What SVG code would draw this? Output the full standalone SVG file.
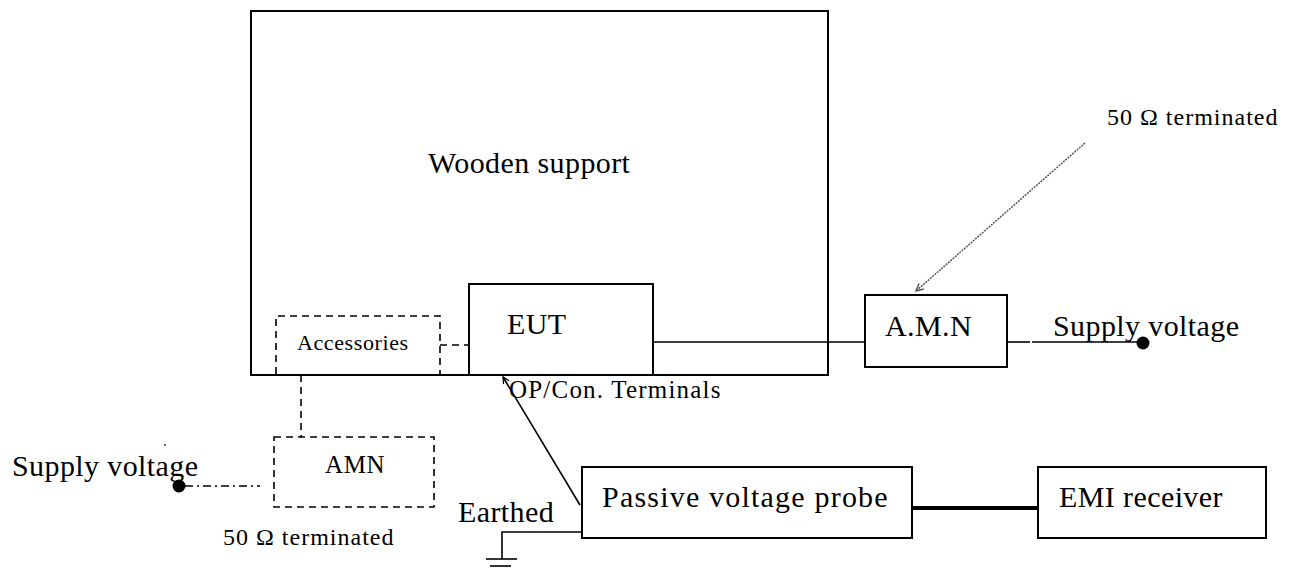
<svg xmlns="http://www.w3.org/2000/svg" width="1296" height="569" viewBox="0 0 1296 569">
<defs>
<style>
text{font-family:"Liberation Serif","Times New Roman",serif;fill:#000;}
.t30{font-size:30px;letter-spacing:0.4px;}
.t25{font-size:25px;letter-spacing:0.6px;}
.t24{font-size:24px;letter-spacing:1px;}
.t22{font-size:22px;letter-spacing:0.6px;}
.box{fill:#fff;stroke:#000;stroke-width:2;}
.dbox{fill:none;stroke:#000;stroke-width:1.6;stroke-dasharray:7 5;}
.ln{fill:none;stroke:#000;stroke-width:1.6;}
.dl{fill:none;stroke:#000;stroke-width:1.6;stroke-dasharray:7 5;}
</style>
<marker id="ah" viewBox="0 0 10 10" refX="9" refY="5" markerWidth="8" markerHeight="8" orient="auto" markerUnits="userSpaceOnUse">
<path d="M1,1 L9,5 L1,9" fill="none" stroke="#000" stroke-width="1.5"/>
</marker>
<marker id="ahg" viewBox="0 0 10 10" refX="9" refY="5" markerWidth="9" markerHeight="9" orient="auto" markerUnits="userSpaceOnUse">
<path d="M1,1 L9,5 L1,9" fill="none" stroke="#555" stroke-width="1.6"/>
</marker>
</defs>
<rect width="1296" height="569" fill="#fff"/>

<g id="wooden-support">
<rect class="box" x="251" y="11" width="577" height="364"/>
<text class="t30" x="428" y="173">Wooden support</text>
</g>

<g id="eut">
<rect class="box" x="469" y="284" width="184" height="91"/>
<text class="t30" x="507" y="334">EUT</text>
</g>

<g id="accessories">
<path class="dbox" d="M276,374 V316 H440 V374"/>
<text class="t22" x="297" y="350">Accessories</text>
</g>

<g id="amn-right">
<rect class="box" x="865" y="295" width="142" height="72"/>
<text class="t30" x="885" y="336">A.M.N</text>
</g>

<g id="amn-left">
<rect class="dbox" x="274" y="437" width="160" height="70"/>
<text class="t25" x="325" y="473">AMN</text>
</g>

<g id="probe">
<rect class="box" x="582" y="467" width="330" height="71"/>
<text class="t30" x="602" y="507" style="letter-spacing:1.2px">Passive voltage probe</text>
</g>

<g id="emi">
<rect class="box" x="1038" y="467" width="228" height="71"/>
<text class="t30" x="1059" y="507">EMI receiver</text>
</g>

<g id="labels">
<text class="t30" x="1053" y="336">Supply voltage</text>
<text class="t30" x="12" y="476">Supply voltage</text>
<text class="t24" x="1107" y="125">50 Ω terminated</text>
<text class="t24" x="223" y="545">50 Ω terminated</text>
<text class="t25" x="509" y="398" style="letter-spacing:1.2px">OP/Con. Terminals</text>
<text class="t30" x="458" y="522">Earthed</text>
<circle cx="165" cy="445" r="1" fill="#333"/>
</g>

<g id="connectors">
<line class="ln" x1="653" y1="342" x2="865" y2="342"/>
<line class="ln" x1="1007" y1="342" x2="1030" y2="342"/>
<line class="ln" x1="1032" y1="342" x2="1143" y2="342"/>
<circle cx="1143" cy="343" r="6.5" fill="#000"/>
<line class="dl" x1="440" y1="345" x2="469" y2="345"/>
<line class="dl" x1="301" y1="375" x2="301" y2="437"/>
<line fill="none" stroke="#000" stroke-width="1.6" stroke-dasharray="8 4 2 4" x1="185" y1="486" x2="260" y2="486"/>
<circle cx="179" cy="486" r="6.5" fill="#000"/>
<line stroke="#555" stroke-width="1.5" stroke-dasharray="2 1" x1="1085" y1="143" x2="916" y2="291" marker-end="url(#ahg)"/>
<line class="ln" x1="580" y1="505" x2="503" y2="377" marker-end="url(#ah)"/>
<line stroke="#000" stroke-width="4" x1="912" y1="508" x2="1038" y2="508"/>
<polyline class="ln" points="582,532 502,532 502,559"/>
<line class="ln" x1="486" y1="559" x2="517" y2="559" stroke-width="2"/>
<line class="ln" x1="490" y1="566" x2="511" y2="566" stroke-width="2"/>
</g>
</svg>
